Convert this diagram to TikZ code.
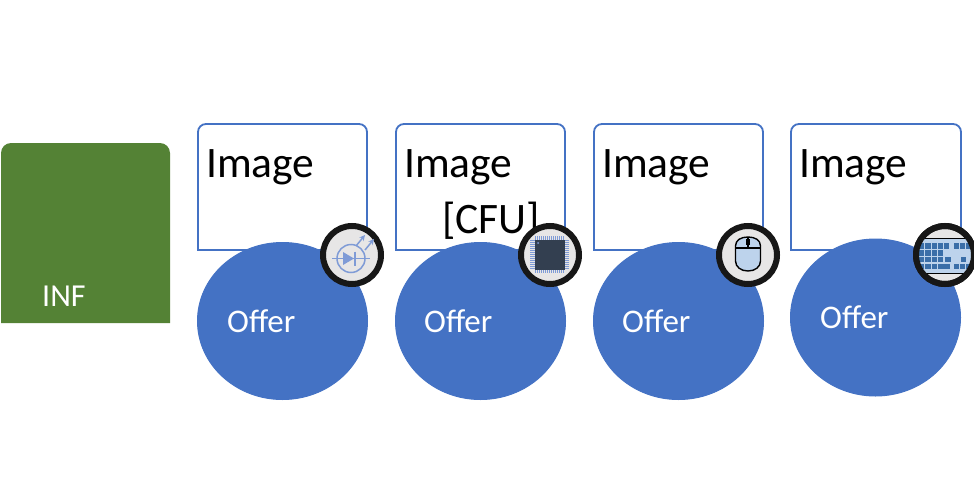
\documentclass[tikz,border=0pt]{standalone}
\usepackage{fontspec}
\setmainfont{Carlito}
\usetikzlibrary{shapes.geometric}
\definecolor{bluefill}{HTML}{4472C4}
\definecolor{greenfill}{HTML}{548235}
\definecolor{ringfill}{HTML}{E7E6E6}
\definecolor{ringline}{HTML}{171717}
\definecolor{ledblue}{HTML}{7F9BD6}
\definecolor{chipdark}{HTML}{333F50}
\definecolor{paleblue}{HTML}{BDD3EC}
\definecolor{keyblue}{HTML}{3A6EA8}
\tikzset{
  x=1pt,y=-1pt,
  imagebox/.style={draw=bluefill,line width=1.8pt,fill=white},
  offerdisc/.style={ellipse,fill=bluefill,draw=bluefill,line width=1pt,minimum width=170pt,minimum height=157pt,inner sep=0pt},
  imagetext/.style={anchor=base west,inner sep=0pt,font=\fontsize{43.5}{43.5}\selectfont,text=black},
  offertext/.style={anchor=base west,inner sep=0pt,font=\fontsize{33}{33}\selectfont,text=white},
  inftext/.style={anchor=base west,inner sep=0pt,font=\fontsize{32}{32}\selectfont,text=white},
  iconring/.style={circle,draw=ringline,fill=ringfill,line width=6pt,minimum size=58pt,inner sep=0pt},
  ledline/.style={draw=ledblue,line width=1.5pt},
  keycap/.style={fill=keyblue,draw=none},
}
\newcommand{\imgframe}[2]{%
  \draw[imagebox] (#1,250) -- (#1,132) arc[start angle=180,end angle=90,radius=8pt] -- (#2-8,124) arc[start angle=90,end angle=0,radius=8pt] -- (#2,250) -- cycle;
}
\begin{document}
\begin{tikzpicture}
\useasboundingbox (0,0) rectangle (974,479);
\clip (0,0) rectangle (974,479);
% green panel
\fill[greenfill] (1,323) -- (1,153) arc[start angle=180,end angle=90,radius=10pt] -- (160,143) arc[start angle=90,end angle=0,radius=10pt] -- (170,323) -- cycle;
\node[inftext] (inf) at (42,306) {INF};
% image boxes
\imgframe{198}{367}
\imgframe{396}{565}
\imgframe{594}{763}
\imgframe{791}{961}
\node[imagetext] (img1) at (206,177) {Image};
\node[imagetext] (img2) at (404,177) {Image};
\node[imagetext] (img3) at (602,177) {Image};
\node[imagetext] (img4) at (799,177) {Image};
\node[imagetext] (cfu) at (442,233) {[CFU]};
% discs
\node[offerdisc] (d1) at (282.5,321) {};
\node[offerdisc] (d2) at (480.5,321) {};
\node[offerdisc] (d3) at (678.5,321) {};
\node[offerdisc] (d4) at (875.5,317.5) {};
\node[offertext] (o1) at (227,332) {Offer};
\node[offertext] (o2) at (424,332) {Offer};
\node[offertext] (o3) at (622,332) {Offer};
\node[offertext] (o4) at (820,328) {Offer};
% icon rings
\node[iconring] (r1) at (352,255) {};
\node[iconring] (r2) at (550,255) {};
\node[iconring] (r3) at (748,255) {};
\node[iconring] (r4) at (945,255) {};
% LED icon
\begin{scope}[shift={(r1.center)}]
  \draw[ledline] (-1,3.5) circle[radius=14pt];
  \draw[ledline] (-20,3.5) -- (18,3.5);
  \fill[ledblue] (-9,-3) -- (2,3.5) -- (-9,10) -- cycle;
  \draw[draw=ledblue,line width=2.6pt] (3,-3.5) -- (3,10.5);
  \draw[ledline,-stealth] (4,-9) -- (13,-20);
  \draw[ledline,-stealth] (13,-5) -- (22,-16);
\end{scope}
% chip icon
\begin{scope}[shift={(r2.center)}]
  \foreach \k in {-14,-12,...,14}{
    \draw[ledblue,line width=0.9pt] (\k-0.5,-19) -- (\k-0.5,18);
    \draw[ledblue,line width=0.9pt] (-20,\k-0.5) -- (19,\k-0.5);
  }
  \fill[chipdark] (-15.5,-15.5) rectangle (14.5,14.5);
  \fill[ledblue] (-12,-12) circle[radius=1pt];
\end{scope}
% mouse icon
\begin{scope}[shift={(r3.center)}]
  \draw[black,line width=1.4pt,fill=paleblue] (-12.5,-9) .. controls (-12.5,-15) and (-7,-18) .. (0,-18) .. controls (7,-18) and (12.5,-15) .. (12.5,-9) -- (12.5,6) .. controls (12.5,12) and (7,16) .. (0,16) .. controls (-7,16) and (-12.5,12) .. (-12.5,6) -- cycle;
  \draw[black,line width=1.1pt] (-12.5,-7) -- (12.5,-7);
  \draw[black,line width=1.1pt] (0,-18) -- (0,-7);
  \fill[black] (-2,-16) rectangle (2,-10);
\end{scope}
% keyboard icon
\begin{scope}
  \clip (r4.center) circle[radius=29pt];
  \begin{scope}[shift={(r4.center)}]
    \fill[paleblue] (-32,-17) rectangle (32,18);
    \draw[black,line width=1pt] (-32,-17) -- (32,-17);
    \draw[black,line width=1pt] (-32,18) -- (32,18);
    \foreach \k in {0,...,4}{\fill[keycap] (-26+\k*6.3,-12) rectangle ++(5.2,5.5);}
    \foreach \k in {0,1,2}{\fill[keycap] (9+\k*6,-12) rectangle ++(5,5.5);}
    \foreach \k in {0,...,3}{\fill[keycap] (-26+\k*6.3,-5) rectangle ++(5.2,5.5);}
    \foreach \k in {0,...,3}{\fill[keycap] (-26+\k*6.3,2) rectangle ++(5.2,5);}
    \fill[keycap] (-0.5,2) rectangle ++(6,5);
    \fill[keycap] (16,2) rectangle ++(5,5);
    \foreach \k in {0,1,2}{\fill[keycap] (-26+\k*6.3,9) rectangle ++(5.2,5);}
    \fill[keycap] (-7,9) rectangle ++(12,5);
    \fill[keycap] (9,9) rectangle ++(5,5);
    \fill[keycap] (15,9) rectangle ++(5,5);
    \fill[keycap] (21,9) rectangle ++(5,5);
  \end{scope}
\end{scope}
\draw[ringline,line width=6pt] (r4.center) circle[radius=29pt];
\end{tikzpicture}
\end{document}
